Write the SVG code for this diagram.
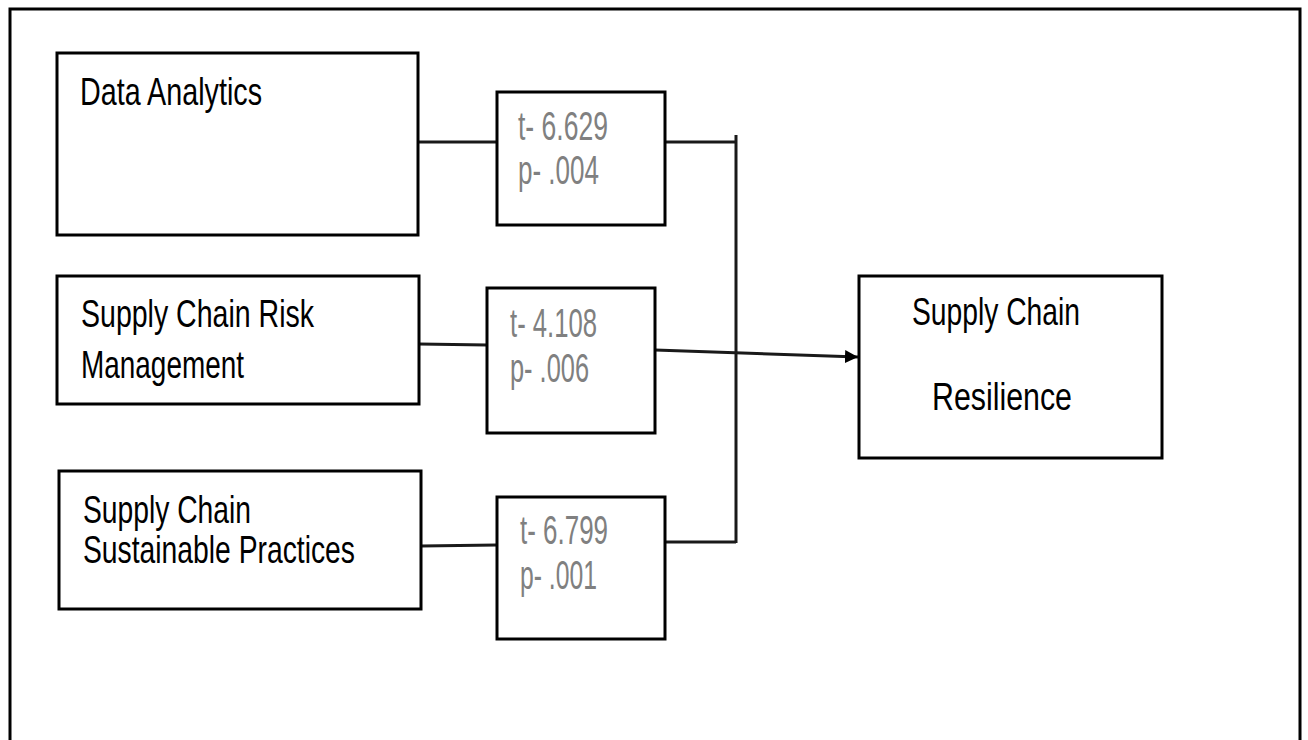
<svg xmlns="http://www.w3.org/2000/svg" width="1308" height="740" viewBox="0 0 1308 740">
<style>
.box{fill:#fff;stroke:#000;stroke-width:3}
.lbl{font-family:"Liberation Sans",Arial,sans-serif;font-size:39px;fill:#000}
.st{font-family:"Liberation Sans",Arial,sans-serif;font-size:40px;fill:#808080}
.con{fill:none;stroke:#1a1a1a;stroke-width:3}
</style>
<defs>
<marker id="ah" viewBox="0 0 10 10" refX="10" refY="5" markerWidth="13" markerHeight="14" orient="auto" markerUnits="userSpaceOnUse">
<path d="M0,0 L10,5 L0,10 Z" fill="#000"/>
</marker>
</defs>
<rect width="1308" height="740" fill="#fff"/>
<path d="M10,745 V9 H1300 V745" fill="none" stroke="#000" stroke-width="3"/>
<g id="connectors">
<line class="con" x1="419" y1="142" x2="497" y2="142"/>
<line class="con" x1="665" y1="142" x2="736" y2="142"/>
<line class="con" x1="419" y1="344" x2="487" y2="345"/>
<line class="con" x1="421" y1="546" x2="497" y2="545"/>
<line class="con" x1="665" y1="542" x2="736" y2="542"/>
<line class="con" x1="736" y1="135" x2="736" y2="543"/>
<line class="con" x1="655" y1="350" x2="858" y2="357" marker-end="url(#ah)"/>
</g>
<g id="data-analytics">
<rect class="box" x="57" y="53" width="361" height="182"/>
<text class="lbl" x="80" y="105" textLength="182" lengthAdjust="spacingAndGlyphs">Data Analytics</text>
</g>
<g id="scrm">
<rect class="box" x="57" y="276" width="362" height="128"/>
<text class="lbl" x="81" y="327" textLength="233" lengthAdjust="spacingAndGlyphs">Supply Chain Risk</text>
<text class="lbl" x="81" y="378" textLength="163" lengthAdjust="spacingAndGlyphs">Management</text>
</g>
<g id="scsp">
<rect class="box" x="59" y="471" width="362" height="138"/>
<text class="lbl" x="83" y="523" textLength="168" lengthAdjust="spacingAndGlyphs">Supply Chain</text>
<text class="lbl" x="83" y="563" textLength="272" lengthAdjust="spacingAndGlyphs">Sustainable Practices</text>
</g>
<g id="stats-1">
<rect class="box" x="497" y="92" width="168" height="133"/>
<text class="st" x="518" y="140" textLength="90" lengthAdjust="spacingAndGlyphs">t- 6.629</text>
<text class="st" x="518" y="184" textLength="81" lengthAdjust="spacingAndGlyphs">p- .004</text>
</g>
<g id="stats-2">
<rect class="box" x="487" y="288" width="168" height="145"/>
<text class="st" x="510" y="337" textLength="87" lengthAdjust="spacingAndGlyphs">t- 4.108</text>
<text class="st" x="510" y="382" textLength="79" lengthAdjust="spacingAndGlyphs">p- .006</text>
</g>
<g id="stats-3">
<rect class="box" x="497" y="497" width="168" height="142"/>
<text class="st" x="520" y="544" textLength="88" lengthAdjust="spacingAndGlyphs">t- 6.799</text>
<text class="st" x="520" y="589" textLength="77" lengthAdjust="spacingAndGlyphs">p- .001</text>
</g>
<g id="resilience">
<rect class="box" x="859" y="276" width="303" height="182"/>
<text class="lbl" x="912" y="325" textLength="168" lengthAdjust="spacingAndGlyphs">Supply Chain</text>
<text class="lbl" x="932" y="410" textLength="140" lengthAdjust="spacingAndGlyphs">Resilience</text>
</g>
</svg>
